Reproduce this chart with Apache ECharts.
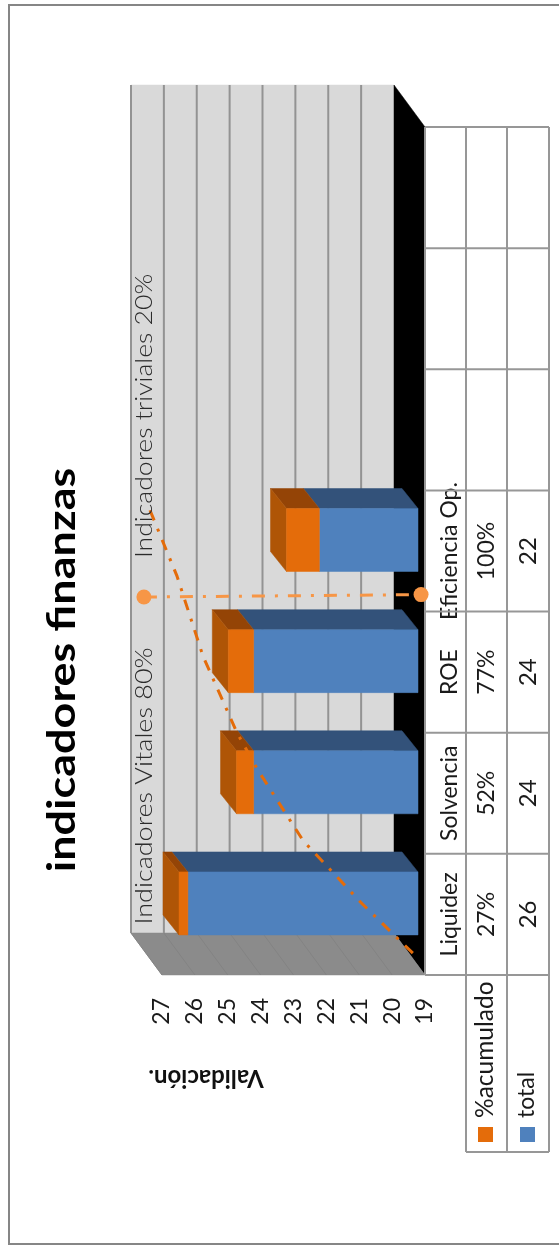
<!DOCTYPE html>
<html><head><meta charset="utf-8">
<style>html,body{margin:0;padding:0;background:#fff}#c{width:559px;height:1245px}</style>
<script src="https://cdn.jsdelivr.net/npm/echarts@6/dist/echarts.min.js"></script>
</head><body><div id="c"></div>
<script>
const categories = ['Liquidez','Solvencia','ROE','Eficiencia Op.','','',''];
const totalValues = [26,24,24,22];
const accumulatedValues = [0.27,0.52,0.77,1.00];
const valueTicks = [19,20,21,22,23,24,25,26,27];
const paretoLine = [[19.37,0.18],[20.92,0.59],[22.71,1.11],[24.08,1.69],[24.72,2.0],[25.75,2.63],[26.54,3.29],[27.37,3.84]];
const dividerLine = [[27.55,3.12],[19.12,3.14]];
const titleText = 'indicadores finanzas';
const axisTitle = 'Validación.';
const noteVital = 'Indicadores Vitales 80%';
const noteTrivial = 'Indicadores triviales 20%';

const percentLabels = categories.map((c,i)=> accumulatedValues[i]==null?'':Math.round(accumulatedValues[i]*100)+'%');
const totalLabels = categories.map((c,i)=> totalValues[i]==null?'':String(totalValues[i]));

const C = {wall:'#D9D9D9',grid:'#939393',side:'#8B8B8B',sideGrid:'#838383',floor:'#000',table:'#979797',
  blue:'#4F81BD',blueTop:'#33527A',orange:'#E46C0A',orangeTop:'#944406',orangeEnd:'#AF5506',line:'#E46C0A',line2:'#F79646',text:'#1a1a1a'};
const FONT='Lato';
const DX=-31, DY=-42;          // wall depth
const BX=-7, BY=-11;           // bar plane offset
const SX=-16, SY=-20;          // bar depth
const chart = echarts.init(document.getElementById('c'),null,{renderer:'canvas'});

function poly(pts,fill,z){return {type:'polygon',shape:{points:pts},style:{fill:fill,stroke:fill,lineWidth:0.5},z2:z||0};}
function seg(a,b,col,w){return {type:'line',shape:{x1:a[0],y1:a[1],x2:b[0],y2:b[1]},style:{stroke:col,lineWidth:w,fill:null}};}

function renderWalls(params,api){
  const cs=params.coordSys, x0=cs.x, x1=cs.x+cs.width, y0=cs.y, y1=cs.y+cs.height;
  const kids=[
    poly([[x0+DX,y0+DY],[x1+DX,y0+DY],[x1+DX,y1+DY],[x0+DX,y1+DY]],C.wall),
    poly([[x1+DX,y0+DY],[x1,y0],[x1,y1],[x1+DX,y1+DY]],C.floor),
    poly([[x0+DX,y1+DY],[x1+DX,y1+DY],[x1,y1],[x0,y1]],C.side)
  ];
  valueTicks.forEach(v=>{
    const x=api.coord([v,0])[0];
    if(v!==19) kids.push(seg([x+DX,y0+DY],[x+DX,y1+DY],C.grid,2));
    if(v!==19) kids.push(seg([x+DX,y1+DY],[x,y1],C.sideGrid,1));
  });
  return {type:'group',children:kids};
}
function renderTable(params,api){
  const cs=params.coordSys, x1=cs.x+cs.width, y0=cs.y, y1=cs.y+cs.height;
  const cols=[x1,x1+41,x1+82,x1+124];
  const band=api.size([0,1])[1];
  const kids=[];
  for(let i=0;i<categories.length+1;i++){
    const y=y1-i*band;
    kids.push(seg([cols[0],y],[cols[3],y],C.table,2));
  }
  cols.forEach(c=>kids.push(seg([c,y0],[c,y1],C.table,2)));
  // legend box
  const ly=y1+177;
  kids.push(seg([cols[1],y1],[cols[1],ly],C.table,2));
  kids.push(seg([cols[2],y1],[cols[2],ly],C.table,2));
  kids.push(seg([cols[3],y1],[cols[3],ly],C.table,2));
  kids.push(seg([cols[1],ly],[cols[3],ly],C.table,2));
  kids.push({type:'rect',shape:{x:cols[1]+12,y:y1+152,width:15,height:15},style:{fill:C.orange}});
  kids.push({type:'rect',shape:{x:cols[2]+13,y:y1+152,width:15,height:15},style:{fill:C.blue}});
  return {type:'group',children:kids};
}
function renderBar(params,api){
  const i=api.value(0), tot=api.value(1), acc=api.value(2);
  const base=api.coord([19,i]), t=api.coord([tot,i]), a=api.coord([tot+acc,i]);
  const hw=api.size([0,1])[1]*0.26;
  const cy=base[1]+BY, top=cy-hw, bot=cy+hw;
  const xb=base[0]+BX, xt=t[0]+BX, xa=a[0]+BX;
  return {type:'group',children:[
    poly([[xb,top],[xb+SX,top+SY],[xt+SX,top+SY],[xt,top]],C.blueTop),
    poly([[xt,top],[xt+SX,top+SY],[xa+SX,top+SY],[xa,top]],C.orangeTop),
    poly([[xa,top],[xa+SX,top+SY],[xa+SX,bot+SY],[xa,bot]],C.orangeEnd),
    poly([[xb,top],[xt,top],[xt,bot],[xb,bot]],C.blue),
    poly([[xt,top],[xa,top],[xa,bot],[xt,bot]],C.orange)
  ]};
}
function labelAxis(data,offset,margin,size){
  return {type:'category',gridIndex:0,data:data,position:'right',offset:offset,
    axisLine:{show:false},axisTick:{show:false},splitLine:{show:false},
    axisLabel:{interval:0,rotate:90,margin:margin,color:C.text,fontFamily:FONT,fontSize:size||23,hideOverlap:false}};
}
function rotText(text,x,y,opts){
  return {type:'text',x:x,y:y,rotation:opts.rot==null?Math.PI/2:opts.rot,scaleX:opts.sx||1,z:20,
    style:{text:text,fontFamily:opts.font||FONT,fontSize:opts.size,fontWeight:opts.weight||'normal',fill:opts.fill||C.text,
      align:opts.align||'center',verticalAlign:'middle'}};
}
chart.setOption({
  animation:false,
  backgroundColor:'#fff',
  grid:[
    {left:162,right:134,top:127,bottom:270,containLabel:false},
    {left:129.125,right:134,top:127,bottom:270,containLabel:false}
  ],
  xAxis:[
    {type:'value',gridIndex:0,min:19,max:27,interval:1,inverse:true,position:'bottom',
      axisLine:{show:false},axisTick:{show:false},splitLine:{show:false},
      axisLabel:{rotate:90,margin:23,color:C.text,fontFamily:FONT,fontSize:23,showMinLabel:true,showMaxLabel:true}},
    {type:'value',gridIndex:1,min:19,max:28,interval:1,inverse:true,show:false}
  ],
  yAxis:[
    labelAxis(categories,0,13),
    labelAxis(percentLabels,41,9),
    labelAxis(totalLabels,82,9,24),
    {type:'value',gridIndex:1,min:0,max:7,show:false}
  ],
  graphic:[
    {type:'rect',shape:{x:9,y:5,width:570,height:1239},style:{fill:'none',stroke:'#868686',lineWidth:2},z:-1},
    rotText(titleText,62,670,{size:39,weight:'bold',font:'Lato',fill:'#000',sx:1.154}),
    rotText(axisTitle,206,1078,{rot:Math.PI,size:24,weight:'bold',fill:'#111'}),
    rotText(noteVital,144,786,{size:24,weight:300,fill:'#2b2b2b',sx:1.125}),
    rotText(noteTrivial,144,416,{size:24,weight:300,fill:'#2b2b2b',sx:1.108}),
    rotText('%acumulado',485,1118,{size:24.5,align:'left'}),
    rotText('total',527,1118,{size:23,align:'left'})
  ],
  series:[
    {type:'custom',name:'walls',xAxisIndex:0,yAxisIndex:0,data:[[0]],renderItem:renderWalls,silent:true,z:1,clip:false},
    {type:'custom',name:'tabla',xAxisIndex:0,yAxisIndex:0,data:[[0]],renderItem:renderTable,silent:true,z:1,clip:false},
    {type:'custom',name:'total',xAxisIndex:0,yAxisIndex:0,z:3,clip:false,renderItem:renderBar,
      encode:{x:1,y:0},
      data:totalValues.map((v,i)=>[i,v,accumulatedValues[i]])},
    {type:'line',name:'acumulado',xAxisIndex:1,yAxisIndex:3,data:paretoLine,clip:false,symbol:'none',z:5,smooth:false,
      lineStyle:{color:C.line,width:3,type:[11,9,3,9]}},
    {type:'line',name:'corte',xAxisIndex:1,yAxisIndex:3,data:dividerLine,clip:false,symbol:'circle',symbolSize:15,showSymbol:true,z:4,
      itemStyle:{color:C.line2},lineStyle:{color:C.line2,width:3,type:[13,10,3,10]}}
  ]
});
</script></body></html>
